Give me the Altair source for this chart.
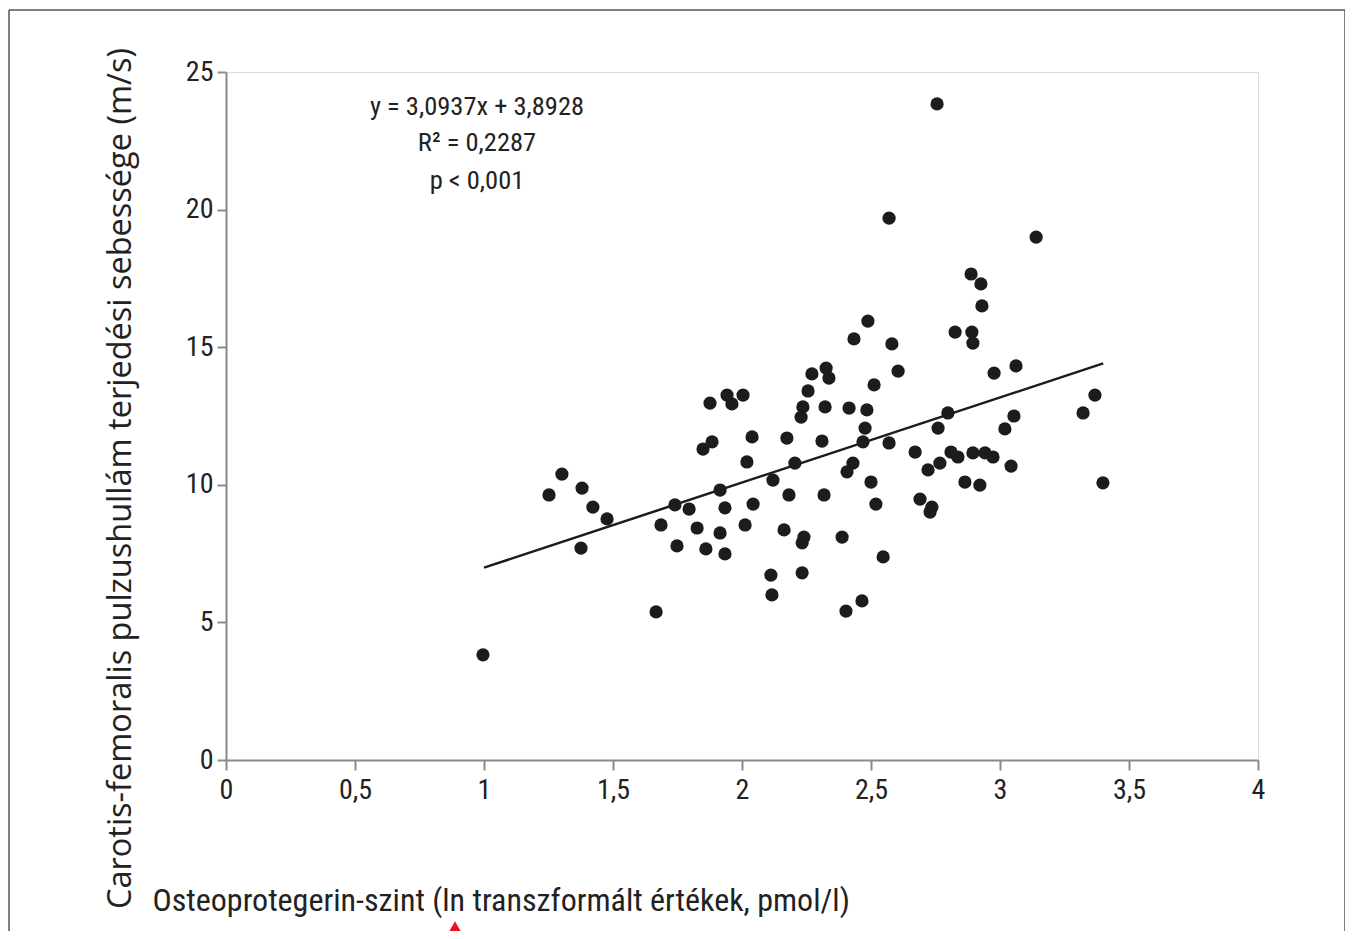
import altair as alt
import pandas as pd

# Osteoprotegerin (ln) values
opg = [1.876, 1.942, 1.961, 2.004, 2.039, 1.884, 1.849, 2.019, 1.302, 1.252,
       1.380, 1.422, 1.477, 1.376, 1.915, 1.740, 1.795, 1.934, 2.043, 1.686,
       1.826, 1.915, 2.012, 1.748, 1.860, 1.934, 1.667, 0.996,
       2.930, 2.488, 2.434, 2.581, 2.826, 2.891, 2.895, 2.605, 2.977, 3.062,
       2.271, 2.326, 2.337, 2.512, 2.256, 2.236, 2.229, 2.322, 2.415, 2.484,
       2.174, 2.310, 2.477, 2.469, 2.570, 2.798, 2.760, 3.054, 3.019, 2.205,
       2.120, 2.430, 2.407, 2.671, 2.721, 2.767, 2.810, 2.837, 2.895, 2.942,
       2.973, 3.043, 2.864, 2.922, 2.500, 2.182, 2.318, 2.519, 2.690, 2.729,
       2.736, 2.163, 2.240, 2.233, 2.388, 2.547, 2.112, 2.233, 2.116, 2.403,
       2.465, 2.756, 2.570, 3.140, 2.888, 2.926, 3.368, 3.322, 3.399]
# Carotis-femoral PWV values (m/s)
pwv = [12.97, 13.26, 12.94, 13.26, 11.74, 11.56, 11.30, 10.83, 10.39, 9.63,
       9.88, 9.19, 8.76, 7.70, 9.81, 9.27, 9.12, 9.16, 9.30, 8.54,
       8.43, 8.25, 8.54, 7.78, 7.67, 7.49, 5.38, 3.82,
       16.50, 15.95, 15.30, 15.12, 15.55, 15.55, 15.15, 14.13, 14.06, 14.32,
       14.03, 14.24, 13.88, 13.63, 13.41, 12.83, 12.46, 12.83, 12.79, 12.72,
       11.70, 11.59, 12.06, 11.56, 11.52, 12.61, 12.06, 12.50, 12.03, 10.79,
       10.17, 10.79, 10.47, 11.19, 10.54, 10.79, 11.19, 11.01, 11.16, 11.16,
       11.01, 10.68, 10.10, 9.99, 10.10, 9.63, 9.63, 9.30, 9.48, 9.01,
       9.19, 8.36, 8.10, 7.89, 8.10, 7.38, 6.72, 6.80, 6.00, 5.41,
       5.78, 23.84, 19.69, 19.00, 17.66, 17.30, 13.26, 12.61, 10.07]

# Regression line endpoints (y = 3.0937x + 3.8928)
line_x = [1.0, 3.4]
line_y = [6.99, 14.41]

x_ticks = [0, 0.5, 1, 1.5, 2, 2.5, 3, 3.5, 4]
y_ticks = [0, 5, 10, 15, 20, 25]

eq_lines = ["y = 3,0937x + 3,8928", "R\u00b2 = 0,2287", "p < 0,001"]

x_title = "Osteoprotegerin-szint (ln transzformált értékek, pmol/l)"
y_title = "Carotis-femoralis pulzushullám terjedési sebessége (m/s)"

NARROW = "Liberation Sans Narrow, Roboto Condensed, Open Sans Condensed, DejaVu Sans Condensed, sans-serif"
TXT = "#222222"
AX = "#8a8a8a"

pts = pd.DataFrame({"x": opg, "y": pwv})
ln = pd.DataFrame({"x": line_x, "y": line_y})
one = pd.DataFrame({"a": [0]})

xscale = alt.Scale(domain=[0, 4], nice=False, zero=False)
yscale = alt.Scale(domain=[0, 25], nice=False, zero=False)

xaxis = alt.Axis(values=x_ticks, labelExpr="replace(format(datum.value, '.1~f'), '.', ',')",
                 grid=False, tickSize=10, tickWidth=2, tickColor=AX, domainColor=AX, domainWidth=2,
                 labelFont=NARROW, labelFontSize=28, labelColor=TXT, labelPadding=6, labelFlush=False,
                 title=x_title, titleFont=NARROW, titleFontSize=32, titleFontWeight="normal",
                 titleColor=TXT, titleX=-74, titleY=140, titleAlign="left", titleBaseline="middle")
yaxis = alt.Axis(values=y_ticks, grid=False, tickSize=9, tickWidth=2, tickColor=AX,
                 domainColor=AX, domainWidth=2, labelFlush=False,
                 labelFont=NARROW, labelFontSize=28, labelColor=TXT, labelPadding=4,
                 title=y_title, titleFont="Open Sans, sans-serif", titleFontSize=32.5,
                 titleFontWeight="normal", titleColor=TXT, titleX=-106, titleY=406,
                 titleAlign="center", titleBaseline="middle", titleAngle=-90)

scatter = alt.Chart(pts).mark_circle(size=175, color="#1c1c1c", opacity=1).encode(
    x=alt.X("x:Q", scale=xscale, axis=xaxis),
    y=alt.Y("y:Q", scale=yscale, axis=yaxis),
)

reg = alt.Chart(ln).mark_line(color="#1c1c1c", strokeWidth=2.5).encode(
    x=alt.X("x:Q", scale=xscale),
    y=alt.Y("y:Q", scale=yscale),
)

texts = [
    alt.Chart(one).mark_text(font=NARROW, fontSize=26.5, color=TXT, align="center", baseline="middle")
    .encode(x=alt.value(251), y=alt.value(yy), text=alt.value(t))
    for t, yy in zip(eq_lines, [35, 71, 109])
]

frame_color = "#555555"
left = alt.Chart(one).mark_rule(color=frame_color, strokeWidth=1.5).encode(
    x=alt.value(-217), y=alt.value(-62), y2=alt.value(880))
top = alt.Chart(one).mark_rule(color=frame_color, strokeWidth=1.5).encode(
    x=alt.value(-217), x2=alt.value(1119), y=alt.value(-62))
right = alt.Chart(one).mark_rule(color=frame_color, strokeWidth=1.5).encode(
    x=alt.value(1119), y=alt.value(-62), y2=alt.value(880))

marker = alt.Chart(one).mark_point(shape="triangle-up", filled=True, size=170, color="#e8141c",
                                   opacity=1).encode(x=alt.value(229), y=alt.value(855))

chart = alt.layer(reg, scatter, *texts, left, top, right, marker).properties(
    width=1032, height=688,
    autosize=alt.AutoSizeParams(type="none"),
    padding={"left": 218, "top": 64, "right": 87, "bottom": 171},
).configure_view(stroke=AX, strokeWidth=2).configure(background="white")

chart.save("out.html", embed_options={"renderer": "svg", "actions": False})
